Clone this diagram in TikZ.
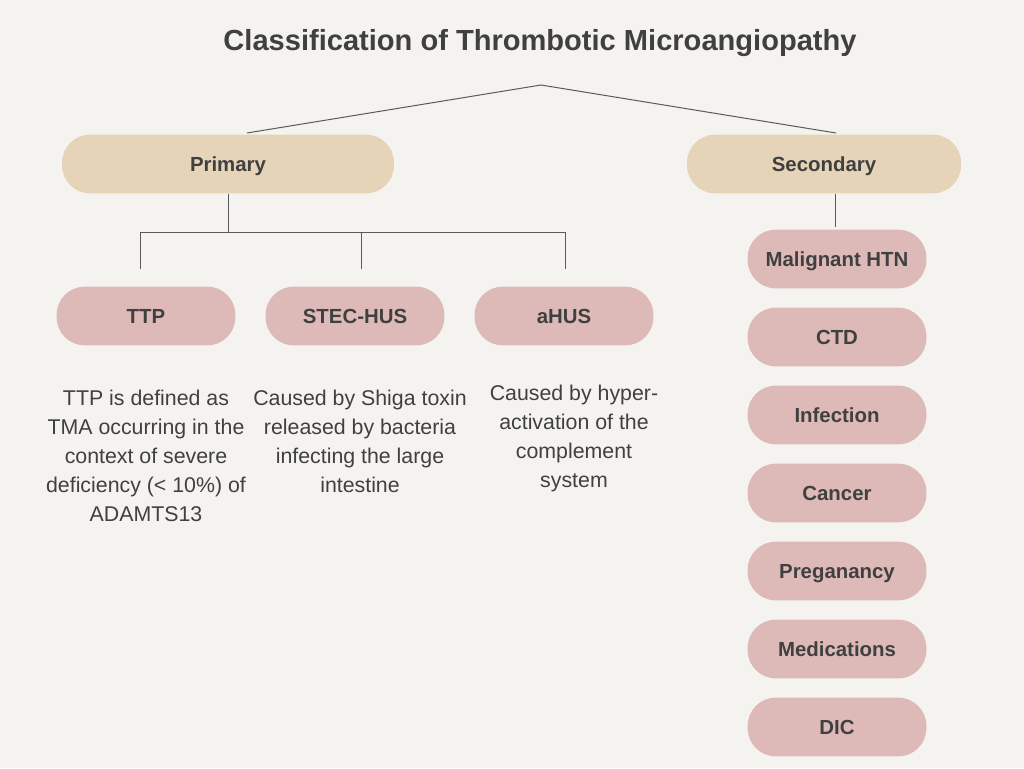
\documentclass[tikz,border=0pt]{standalone}
\usepackage{fontspec}
\setmainfont{Liberation Sans}
\definecolor{bg}{HTML}{F5F3EF}
\definecolor{beige}{HTML}{E5D4B8}
\definecolor{pink}{HTML}{DDBAB8}
\definecolor{txt}{HTML}{404040}
\definecolor{ln}{HTML}{5A5A5A}
\begin{document}
\begin{tikzpicture}[x=0.75pt,y=-0.75pt,
  pill/.style={rounded corners=21pt,minimum height=44pt,inner sep=0pt,text=txt,text height=11pt,text depth=0pt,font=\fontsize{15.3}{18}\selectfont\bfseries},
  toppill/.style={pill,fill=beige},
  subpill/.style={pill,fill=pink,minimum width=134pt},
  desc/.style={align=center,text=txt,font=\fontsize{16}{21.75}\selectfont,inner sep=0pt,anchor=north},
  conn/.style={draw=ln,line width=0.75pt}]
\fill[bg] (0,0) rectangle (1024,768);
\useasboundingbox (0,0) rectangle (1024,768);
\node[text=txt,font=\fontsize{21.8}{26}\selectfont\bfseries] (title) at (540,43) {Classification of Thrombotic Microangiopathy};
\coordinate (apex) at (541,85);
\coordinate (lft) at (247,133);
\coordinate (rgt) at (836,133);
\draw[conn] (lft) -- (apex) -- (rgt);
\node[toppill,minimum width=249pt] (primary) at (228,164) {Primary};
\node[toppill,minimum width=205.5pt] (secondary) at (824,164) {Secondary};
\node[subpill] (ttp) at (146,316) {TTP};
\node[subpill] (stec) at (355,316) {STEC-HUS};
\node[subpill] (ahus) at (564,316) {aHUS};
\coordinate (j0) at (228,232);
\coordinate (j1) at (140,232);
\coordinate (j2) at (361,232);
\coordinate (j3) at (565,232);
\coordinate (e1) at (140,269);
\coordinate (e2) at (361,269);
\coordinate (e3) at (565,269);
\draw[conn] (primary.south) -- (j0);
\draw[conn] (e1) -- (j1) -- (j3) -- (e3);
\draw[conn] (j2) -- (e2);
\node[desc] (ttpd) at (146,390) {TTP is defined as\\TMA occurring in the\\context of severe\\deficiency (< 10\%) of\\ADAMTS13};
\node[desc] (stecd) at (360,390) {Caused by Shiga toxin\\released by bacteria\\infecting the large\\intestine};
\node[desc] (ahusd) at (574,385) {Caused by hyper-\\activation of the\\complement\\system};
\node[subpill] (s1) at (837,259) {Malignant HTN};
\node[subpill] (s2) at (837,337) {CTD};
\node[subpill] (s3) at (837,415) {Infection};
\node[subpill] (s4) at (837,493) {Cancer};
\node[subpill] (s5) at (837,571) {Preganancy};
\node[subpill] (s6) at (837,649) {Medications};
\node[subpill] (s7) at (837,727) {DIC};
\coordinate (se) at (835,227);
\draw[conn] (secondary.south -| se) -- (se);
\end{tikzpicture}
\end{document}
